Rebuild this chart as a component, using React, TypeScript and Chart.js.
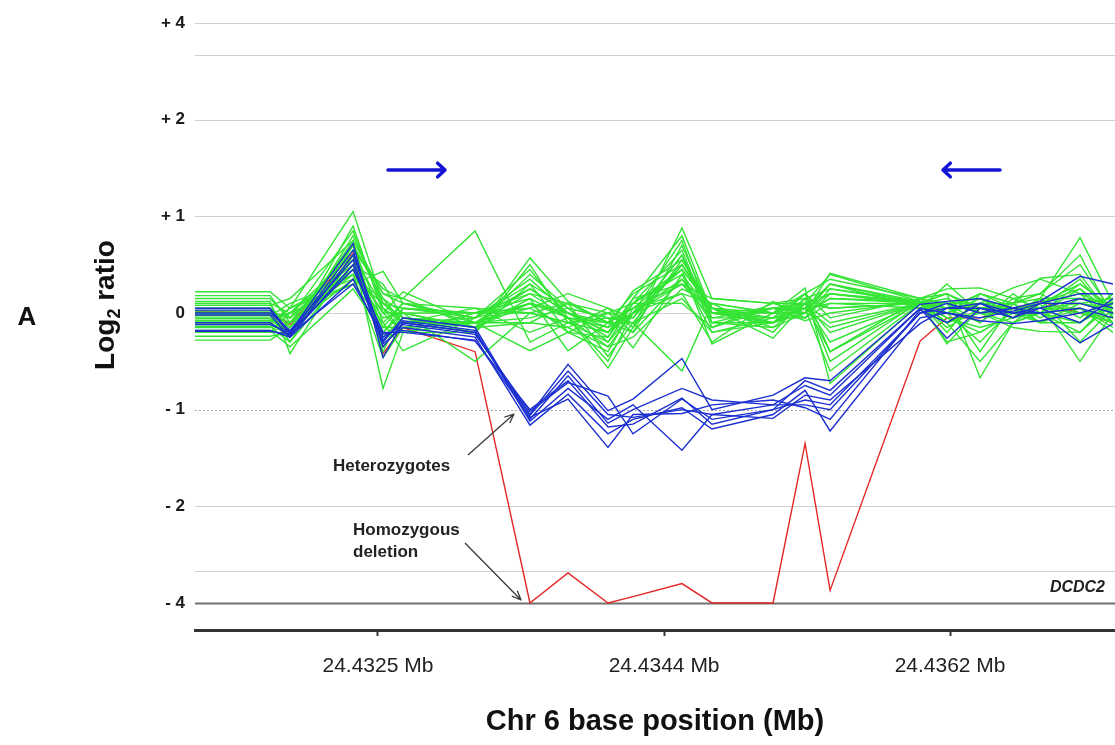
import React, { useEffect, useRef } from 'react';
import { Chart, registerables } from 'chart.js';

Chart.register(...registerables);

// Probe positions (bp on chromosome 6)
const probePositions = [
  24431350, 24431833, 24431961, 24432367, 24432560, 24432688, 24433152, 24433505,
  24433750, 24434007, 24434168, 24434483, 24434676, 24435069, 24435275, 24435436,
  24436015, 24436188, 24436401, 24436613, 24436787, 24437044, 24437256,
];
const xMin = 24431350;
const xMax = 24437269;
const xTickValues = [24432527, 24434368, 24436208];
const xTickLabels = ['24.4325 Mb', '24.4344 Mb', '24.4362 Mb'];

const yTickValues = [4, 2, 1, 0, -1, -2, -4];
const yTickLabels = ['+ 4', '+ 2', '+ 1', '0', '- 1', '- 2', '- 4'];
const extraGridValues = [3.34, -3.34];

// Homozygous deletion (red)
const homozygousDeletion = [0.02, 0.0, -0.12, 0.62, -0.42, -0.15, -0.4, -4, -3.38, -4, -3.87, -3.6, -4, -4, -1.35, -3.74, -0.29, -0.05, -0.05, 0.05, 0.12, 0.0, -0.1];

// Heterozygotes (blue)
const het1 = [0.05, 0.05, -0.2, 0.72, -0.46, -0.1, -0.2, -1.05, -0.53, -1.01, -0.89, -0.47, -1.0, -0.85, -0.67, -0.7, 0.09, 0.12, 0.15, 0.05, 0.12, 0.38, 0.3];
const het2 = [0.03, 0.03, -0.22, 0.65, -0.3, -0.05, -0.15, -1.1, -0.65, -1.14, -1.0, -0.78, -0.9, -0.95, -0.75, -0.85, 0.05, -0.26, 0.05, -0.05, 0.1, 0.1, 0.0];
const het3 = [-0.02, -0.02, -0.25, 0.6, -0.25, -0.12, -0.22, -1.02, -0.72, -0.86, -1.25, -0.89, -1.1, -1.0, -0.9, -0.95, 0.0, 0.1, 0.0, 0.05, 0.0, -0.31, -0.11];
const het4 = [-0.1, -0.1, -0.24, 0.5, -0.32, -0.15, -0.25, -1.16, -0.84, -1.25, -1.1, -0.98, -1.2, -1.05, -0.8, -1.22, -0.05, 0.0, -0.08, -0.11, -0.08, 0.0, 0.1];
const het5 = [-0.12, -0.12, -0.2, 0.45, -0.2, -0.2, -0.28, -1.08, -0.89, -1.39, -1.05, -1.04, -0.95, -0.9, -0.98, -1.1, 0.03, -0.1, 0.1, 0.0, 0.05, 0.15, 0.05];
const het6 = [-0.18, -0.18, -0.25, 0.35, -0.28, -0.08, -0.18, -1.12, -0.78, -1.1, -0.95, -1.42, -1.05, -1.09, -0.85, -0.9, -0.11, 0.05, 0.05, 0.0, 0.0, 0.05, -0.05];
const het7 = [-0.19, -0.19, -0.22, 0.3, -0.22, -0.18, -0.29, -1.0, -0.7, -1.18, -1.15, -0.88, -1.15, -1.0, -0.7, -0.8, 0.05, 0.0, -0.05, 0.02, 0.1, 0.2, 0.2];
const het8 = [0.0, 0.0, -0.18, 0.55, -0.35, -0.1, -0.2, -1.06, -0.6, -1.05, -1.08, -1.0, -1.05, -0.95, -0.95, -1.0, 0.0, 0.05, 0.1, -0.05, 0.05, -0.1, 0.15];
const heterozygotes = [het1, het2, het3, het4, het5, het6, het7, het8];

// Normal samples (green)
const n01 = [0.22, 0.22, 0.05, 1.05, 0.1, -0.05, -0.1, 0.1, 0.0, -0.2, 0.0, 0.3, -0.05, 0.05, 0.1, 0.4, 0.12, 0.05, 0.2, 0.1, 0.15, 0.78, 0.1];
const n02 = [0.18, 0.18, -0.1, 0.7, 0.2, 0.15, 0.85, -0.3, -0.1, -0.3, 0.1, 0.45, 0.05, -0.1, 0.15, 0.25, 0.1, -0.3, -0.2, 0.0, 0.1, -0.5, 0.0];
const n03 = [0.12, 0.12, -0.42, 0.6, -0.78, -0.2, -0.2, 0.57, 0.12, -0.1, 0.2, 0.5, 0.0, -0.1, 0.05, -0.6, 0.1, 0.2, -0.67, -0.1, 0.0, 0.3, 0.05];
const n04 = [0.08, 0.08, 0.15, 0.75, 0.2, 0.1, -0.05, 0.45, -0.05, -0.57, -0.15, 0.88, 0.15, 0.1, 0.0, 0.3, 0.12, -0.1, 0.1, 0.26, 0.35, 0.2, -0.1];
const n05 = [0.05, 0.05, -0.2, 0.5, -0.3, -0.05, -0.15, 0.4, 0.05, -0.05, -0.36, 0.4, -0.2, -0.05, 0.2, -0.4, 0.15, 0.0, -0.3, 0.05, 0.05, 0.1, 0.15];
const n06 = [0.02, 0.02, -0.05, 0.45, 0.0, 0.22, -0.1, -0.39, -0.2, -0.4, 0.05, 0.2, -0.3, 0.12, -0.05, 0.1, 0.05, 0.3, 0.0, -0.15, -0.19, -0.2, 0.1];
const n07 = [0.0, 0.0, -0.3, 0.7, -0.1, -0.39, -0.05, 0.1, 0.0, -0.15, 0.23, 0.55, 0.05, -0.26, 0.1, 0.2, 0.09, 0.1, 0.15, 0.0, -0.1, 0.05, -0.15];
const n08 = [-0.03, -0.03, 0.1, 0.35, 0.15, 0.0, -0.5, 0.0, -0.1, -0.05, -0.1, -0.6, 0.1, 0.0, 0.26, -0.73, 0.1, -0.2, 0.2, 0.1, 0.36, 0.4, -0.05];
const n09 = [-0.06, -0.06, -0.15, 0.55, -0.2, 0.05, 0.0, 0.2, 0.1, 0.0, -0.2, 0.7, 0.0, 0.05, -0.08, 0.0, 0.12, 0.05, -0.1, 0.2, 0.0, -0.1, 0.2];
const n10 = [-0.08, -0.08, 0.0, 0.3, 0.43, 0.1, 0.05, -0.2, -0.05, -0.5, 0.0, 0.35, -0.1, -0.15, 0.0, 0.41, 0.15, 0.25, 0.26, 0.15, 0.2, 0.5, 0.0];
const n11 = [-0.1, -0.1, -0.25, 0.8, 0.1, -0.1, -0.2, 0.3, -0.2, -0.25, 0.1, 0.1, -0.15, 0.1, 0.1, -0.2, 0.1, -0.32, 0.05, -0.05, 0.1, 0.25, -0.1];
const n12 = [-0.12, -0.12, 0.05, 0.4, -0.46, -0.15, -0.1, 0.05, 0.2, 0.05, -0.05, 0.6, -0.05, -0.05, 0.05, 0.3, 0.05, 0.1, -0.4, 0.1, -0.05, 0.15, 0.1];
const n13 = [-0.15, -0.15, -0.1, 0.65, 0.25, 0.15, -0.15, -0.1, -0.15, -0.35, -0.25, 0.25, 0.1, -0.2, 0.15, -0.5, 0.12, 0.0, 0.1, -0.05, 0.15, -0.3, 0.05];
const n14 = [-0.18, -0.18, -0.35, 0.25, -0.2, 0.0, 0.0, 0.15, -0.39, -0.1, 0.05, 0.45, -0.32, 0.0, -0.05, 0.2, 0.1, 0.15, 0.0, 0.05, 0.05, 0.05, -0.1];
const n15 = [-0.2, -0.2, 0.0, 0.5, 0.0, -0.2, -0.1, 0.25, 0.0, -0.2, 0.15, 0.3, 0.0, 0.05, 0.1, -0.1, 0.1, -0.05, -0.2, 0.0, 0.1, 0.3, 0.05];
const n16 = [-0.24, -0.24, -0.2, 0.75, -0.35, -0.1, 0.05, 0.0, -0.1, 0.0, -0.05, 0.5, 0.05, -0.1, 0.0, 0.15, 0.12, 0.05, 0.1, 0.1, 0.2, 0.6, -0.05];
const n17 = [-0.28, -0.28, -0.15, 0.35, 0.1, 0.05, -0.05, 0.3, 0.05, -0.3, 0.0, 0.2, 0.1, 0.0, 0.2, 0.35, 0.15, 0.2, 0.0, -0.1, 0.0, -0.2, 0.15];
const n18 = [0.15, 0.15, -0.05, 0.55, -0.15, 0.1, -0.1, -0.1, 0.1, -0.45, -0.1, 0.15, -0.2, -0.1, 0.1, -0.3, 0.1, -0.15, 0.05, 0.05, -0.1, 0.1, 0.0];
const n19 = [0.1, 0.1, -0.25, 0.9, 0.0, 0.0, -0.15, 0.15, -0.05, -0.15, 0.0, 0.75, -0.1, 0.05, 0.05, 0.1, 0.1, 0.1, -0.1, 0.15, 0.05, 0.0, -0.1];
const n20 = [0.0, 0.0, -0.1, 0.45, -0.25, -0.05, -0.2, 0.5, -0.1, -0.2, 0.1, 0.4, 0.0, -0.05, -0.05, 0.25, 0.12, 0.0, 0.15, 0.0, 0.15, 0.15, 0.1];
const n21 = [-0.05, -0.05, -0.2, 0.6, 0.05, -0.2, 0.0, 0.05, -0.15, 0.05, -0.15, 0.55, 0.05, -0.15, 0.1, -0.4, 0.1, -0.1, -0.5, -0.1, 0.1, 0.2, 0.05];
const n22 = [-0.1, -0.1, 0.05, 0.3, -0.1, 0.1, -0.05, 0.35, 0.0, -0.1, 0.05, 0.3, 0.15, 0.1, 0.15, 0.05, 0.1, 0.2, 0.05, 0.1, -0.1, -0.1, 0.1];
const n23 = [-0.14, -0.14, -0.3, 0.5, 0.3, -0.05, -0.1, -0.05, 0.05, -0.05, -0.05, 0.6, -0.15, 0.05, 0.0, 0.3, 0.1, 0.0, 0.2, 0.05, 0.05, 0.35, -0.05];
const n24 = [0.05, 0.05, -0.15, 0.7, 0.15, -0.1, -0.1, 0.2, -0.05, -0.35, 0.0, 0.45, 0.05, -0.05, 0.05, -0.15, 0.1, 0.1, 0.0, 0.1, 0.2, 0.0, -0.05];
const n25 = [-0.2, -0.2, -0.1, 0.4, -0.05, 0.0, -0.15, 0.1, -0.2, 0.0, 0.1, 0.65, -0.1, -0.1, 0.05, 0.2, 0.12, -0.05, -0.15, -0.05, 0.15, -0.05, 0.2];
const n26 = [0.1, 0.1, 0.0, 0.6, -0.4, 0.05, 0.0, 0.0, 0.1, -0.1, -0.2, 0.35, 0.0, 0.0, 0.1, 0.05, 0.1, 0.05, 0.05, -0.05, 0.0, 0.25, 0.0];
const n27 = [-0.02, -0.02, -0.05, 0.85, 0.05, -0.1, -0.05, 0.25, 0.0, -0.25, 0.15, 0.8, 0.0, -0.1, 0.2, -0.05, 0.15, 0.1, 0.1, 0.05, 0.1, 0.1, 0.05];
const n28 = [-0.08, -0.08, -0.2, 0.55, -0.15, -0.15, -0.1, 0.1, -0.05, -0.1, -0.1, 0.5, 0.05, 0.0, 0.0, 0.15, 0.1, -0.1, 0.0, 0.0, 0.0, 0.05, -0.2];
const normals = [n01, n02, n03, n04, n05, n06, n07, n08, n09, n10, n11, n12, n13, n14, n15, n16, n17, n18, n19, n20, n21, n22, n23, n24, n25, n26, n27, n28];

const GREEN = 'rgb(52, 228, 52)';
const BLUE = 'rgb(28, 48, 208)';
const RED = 'rgb(226, 38, 38)';
const FONT = 'Arial, "Liberation Sans", Helvetica, sans-serif';

// Compressed display scale: |v|<=2 linear, beyond 2 half-scale (4 -> 3)
function toDisplay(v: number): number {
  const a = Math.abs(v);
  const d = a <= 2 ? a : 2 + (a - 2) / 2;
  return v < 0 ? -d : d;
}

function toPoints(values: number[]) {
  return values.map((v, i) => ({ x: probePositions[i], y: toDisplay(v) }));
}

function drawArrow(ctx: CanvasRenderingContext2D, x1: number, y1: number, x2: number, y2: number, head: number, spread: number) {
  const ang = Math.atan2(y2 - y1, x2 - x1);
  ctx.beginPath();
  ctx.moveTo(x1, y1);
  ctx.lineTo(x2, y2);
  ctx.moveTo(x2 - head * Math.cos(ang - spread), y2 - head * Math.sin(ang - spread));
  ctx.lineTo(x2, y2);
  ctx.lineTo(x2 - head * Math.cos(ang + spread), y2 - head * Math.sin(ang + spread));
  ctx.stroke();
}

const gridPlugin = {
  id: 'customGrid',
  beforeDatasetsDraw(chart: any) {
    const { ctx, chartArea, scales } = chart;
    const ys = scales.y;
    ctx.save();
    const all = [...yTickValues, ...extraGridValues];
    all.forEach((v) => {
      const y = Math.round(ys.getPixelForValue(toDisplay(v))) + 0.5;
      ctx.beginPath();
      if (v === -4) {
        ctx.strokeStyle = '#707070';
        ctx.lineWidth = 2;
        ctx.setLineDash([]);
      } else if (v === -1) {
        ctx.strokeStyle = '#a8a8a8';
        ctx.lineWidth = 1;
        ctx.setLineDash([2, 2]);
      } else {
        ctx.strokeStyle = '#cfcfcf';
        ctx.lineWidth = 1;
        ctx.setLineDash([]);
      }
      ctx.moveTo(chartArea.left, y);
      ctx.lineTo(chartArea.right, y);
      ctx.stroke();
    });
    ctx.restore();
  },
};

const annotationPlugin = {
  id: 'annotations',
  afterDraw(chart: any) {
    const { ctx, chartArea } = chart;
    ctx.save();
    ctx.setLineDash([]);
    // Blue primer arrows
    ctx.strokeStyle = '#1414d4';
    ctx.lineWidth = 3.5;
    ctx.lineCap = 'round';
    ctx.lineJoin = 'round';
    drawArrow(ctx, 388, 170, 445, 170, 10, 0.75);
    drawArrow(ctx, 1000, 170, 943, 170, 10, 0.75);

    // Grey annotation arrows
    ctx.strokeStyle = '#3a3a3a';
    ctx.lineWidth = 1.3;
    ctx.lineCap = 'butt';
    drawArrow(ctx, 468, 455, 514, 414, 10, 0.4);
    drawArrow(ctx, 465, 543, 521, 600, 10, 0.4);

    // Labels
    ctx.fillStyle = '#222';
    ctx.textBaseline = 'middle';
    ctx.textAlign = 'left';
    ctx.font = `bold 17px ${FONT}`;
    ctx.fillText('Heterozygotes', 333, 466);
    ctx.fillText('Homozygous', 353, 530);
    ctx.fillText('deletion', 353, 552);

    ctx.textAlign = 'right';
    ctx.font = `italic bold 16px ${FONT}`;
    ctx.fillText('DCDC2', 1105, 588);

    // Panel letter
    ctx.textAlign = 'center';
    ctx.fillStyle = '#111';
    ctx.font = `bold 26px ${FONT}`;
    ctx.fillText('A', 27, 318);

    // Y title with subscript
    ctx.save();
    ctx.translate(104, 305);
    ctx.rotate(-Math.PI / 2);
    ctx.textAlign = 'left';
    ctx.textBaseline = 'alphabetic';
    const big = `bold 28px ${FONT}`;
    const small = `bold 18px ${FONT}`;
    ctx.font = big;
    const w1 = ctx.measureText('Log').width;
    const w3 = ctx.measureText(' ratio').width;
    ctx.font = small;
    const w2 = ctx.measureText('2').width;
    const total = w1 + w2 + w3;
    let x = -total / 2;
    const base = 10;
    ctx.font = big;
    ctx.fillText('Log', x, base);
    x += w1;
    ctx.font = small;
    ctx.fillText('2', x, base + 6);
    x += w2;
    ctx.font = big;
    ctx.fillText(' ratio', x, base);
    ctx.restore();

    // X title
    ctx.textAlign = 'center';
    ctx.textBaseline = 'middle';
    ctx.fillStyle = '#111';
    ctx.font = `bold 29px ${FONT}`;
    ctx.fillText('Chr 6 base position (Mb)', (chartArea.left + chartArea.right) / 2, 722);
    ctx.restore();
  },
};

export default function App() {
  const ref = useRef<HTMLCanvasElement>(null);

  useEffect(() => {
    document.body.style.margin = '0';
    const canvas = ref.current;
    if (!canvas) return;

    const datasets: any[] = [];
    datasets.push({
      label: 'Homozygous deletion',
      data: toPoints(homozygousDeletion),
      borderColor: RED,
      borderWidth: 1.4,
      order: 2,
    });
    normals.forEach((s, i) => {
      datasets.push({
        label: `Normal ${i + 1}`,
        data: toPoints(s),
        borderColor: GREEN,
        borderWidth: 1.4,
        order: 1,
      });
    });
    heterozygotes.forEach((s, i) => {
      datasets.push({
        label: `Heterozygote ${i + 1}`,
        data: toPoints(s),
        borderColor: BLUE,
        borderWidth: 1.4,
        order: 0,
      });
    });

    const chart = new Chart(canvas, {
      type: 'line',
      data: { datasets },
      options: {
        animation: false,
        responsive: false,
        maintainAspectRatio: false,
        layout: { padding: { top: 4, right: 0, left: 0, bottom: 0 } },
        elements: {
          point: { radius: 0, hoverRadius: 0 },
          line: { tension: 0, fill: false },
        },
        plugins: {
          legend: { display: false },
          tooltip: { enabled: false },
        },
        scales: {
          x: {
            type: 'linear',
            min: xMin,
            max: xMax,
            afterBuildTicks: (scale: any) => {
              scale.ticks = xTickValues.map((v) => ({ value: v }));
            },
            afterFit: (scale: any) => {
              scale.height = 115;
            },
            ticks: {
              autoSkip: false,
              maxRotation: 0,
              padding: 18,
              color: '#222',
              font: { family: FONT, size: 21 },
              callback: (value: any) => {
                const idx = xTickValues.indexOf(Number(value));
                return idx >= 0 ? xTickLabels[idx] : '';
              },
            },
            grid: {
              drawOnChartArea: false,
              drawTicks: true,
              tickLength: 6,
              tickColor: '#333',
              tickWidth: 2,
            },
            border: { display: true, color: '#333', width: 3 },
          },
          y: {
            type: 'linear',
            min: -3.28,
            max: 3.03,
            afterBuildTicks: (scale: any) => {
              scale.ticks = yTickValues.map((v) => ({ value: toDisplay(v) }));
            },
            afterFit: (scale: any) => {
              scale.width = 195;
            },
            ticks: {
              autoSkip: false,
              padding: 10,
              color: '#1a1a1a',
              font: { family: FONT, size: 17, weight: 'bold' },
              callback: (value: any) => {
                const idx = yTickValues.findIndex((v) => Math.abs(toDisplay(v) - Number(value)) < 1e-6);
                return idx >= 0 ? yTickLabels[idx] : '';
              },
            },
            grid: { display: false, drawTicks: false },
            border: { display: false },
          },
        },
      },
      plugins: [gridPlugin, annotationPlugin],
    } as any);

    return () => chart.destroy();
  }, []);

  return (
    <div style={{ position: 'absolute', left: 0, top: 0, width: 1115, height: 745, background: '#fff' }}>
      <canvas ref={ref} width={1115} height={745} style={{ width: 1115, height: 745, display: 'block' }} />
    </div>
  );
}
